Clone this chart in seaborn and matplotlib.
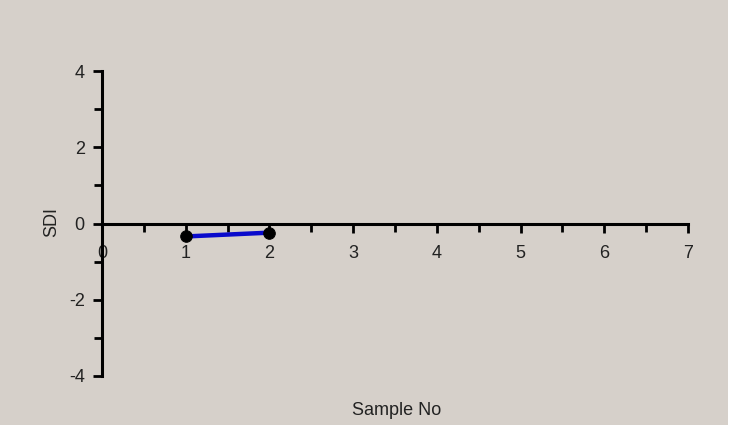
import matplotlib
matplotlib.use("Agg")
import matplotlib.pyplot as plt
import matplotlib.patches as mpatches
from matplotlib.ticker import MultipleLocator
import pandas as pd
import seaborn as sns

# Chart data
sample_no = [1, 2]
sdi_values = [-0.34, -0.24]
x_ticks = [0, 1, 2, 3, 4, 5, 6, 7]
y_ticks = [-4, -2, 0, 2, 4]

BG = "#d6d0ca"
TXT = "#222222"

sns.set_style("ticks")
plt.rcParams["font.family"] = ["Liberation Sans", "DejaVu Sans"]
plt.rcParams["axes.unicode_minus"] = False

df = pd.DataFrame({"Sample No": sample_no, "SDI": sdi_values})

fig = plt.figure(figsize=(7.37, 4.33), dpi=100, facecolor="white")
# grey panel, white strip at right and bottom
fig.patches.append(mpatches.Rectangle((0, 1 - 425 / 433), 728 / 737, 425 / 433,
                                      transform=fig.transFigure, facecolor=BG,
                                      edgecolor="none", zorder=-10))
ax = fig.add_axes([102 / 737, 1 - 376 / 433, 586 / 737, 305 / 433])
ax.set_zorder(5)
ax.set_facecolor("none")

sns.lineplot(data=df, x="Sample No", y="SDI", ax=ax, color="#0a0acc", linewidth=3.2,
             zorder=3)
sns.scatterplot(data=df, x="Sample No", y="SDI", ax=ax, color="black", s=70,
                edgecolor="black", zorder=4)

ax.set_xlim(0, 7)
ax.set_ylim(-4, 4)
ax.set_xticks(x_ticks)
ax.set_yticks(y_ticks)
ax.xaxis.set_minor_locator(MultipleLocator(0.5))
ax.yaxis.set_minor_locator(MultipleLocator(1))

for s in ["top", "right"]:
    ax.spines[s].set_visible(False)
ax.spines["bottom"].set_position(("data", 0))
ax.spines["left"].set_position(("data", 0))
for s in ["bottom", "left"]:
    ax.spines[s].set_linewidth(2.2)
    ax.spines[s].set_color("black")

ax.tick_params(axis="both", which="major", direction="out", length=6.5, width=2,
               colors="black", labelcolor=TXT, labelsize=13)
ax.tick_params(axis="x", which="major", pad=9)
ax.tick_params(axis="y", which="major", pad=6)
ax.tick_params(axis="both", which="minor", direction="out", length=5.5, width=2,
               colors="black")

ax.set_xlabel("Sample No", fontsize=13, color=TXT, va="center")
ax.xaxis.set_label_coords(0.502, -0.113)
ax.set_ylabel("SDI", fontsize=13, color=TXT, va="center", ha="center")
ax.yaxis.set_label_coords(-0.085, 0.505)

plt.savefig("out.png", dpi=100, facecolor="white")
plt.close()
